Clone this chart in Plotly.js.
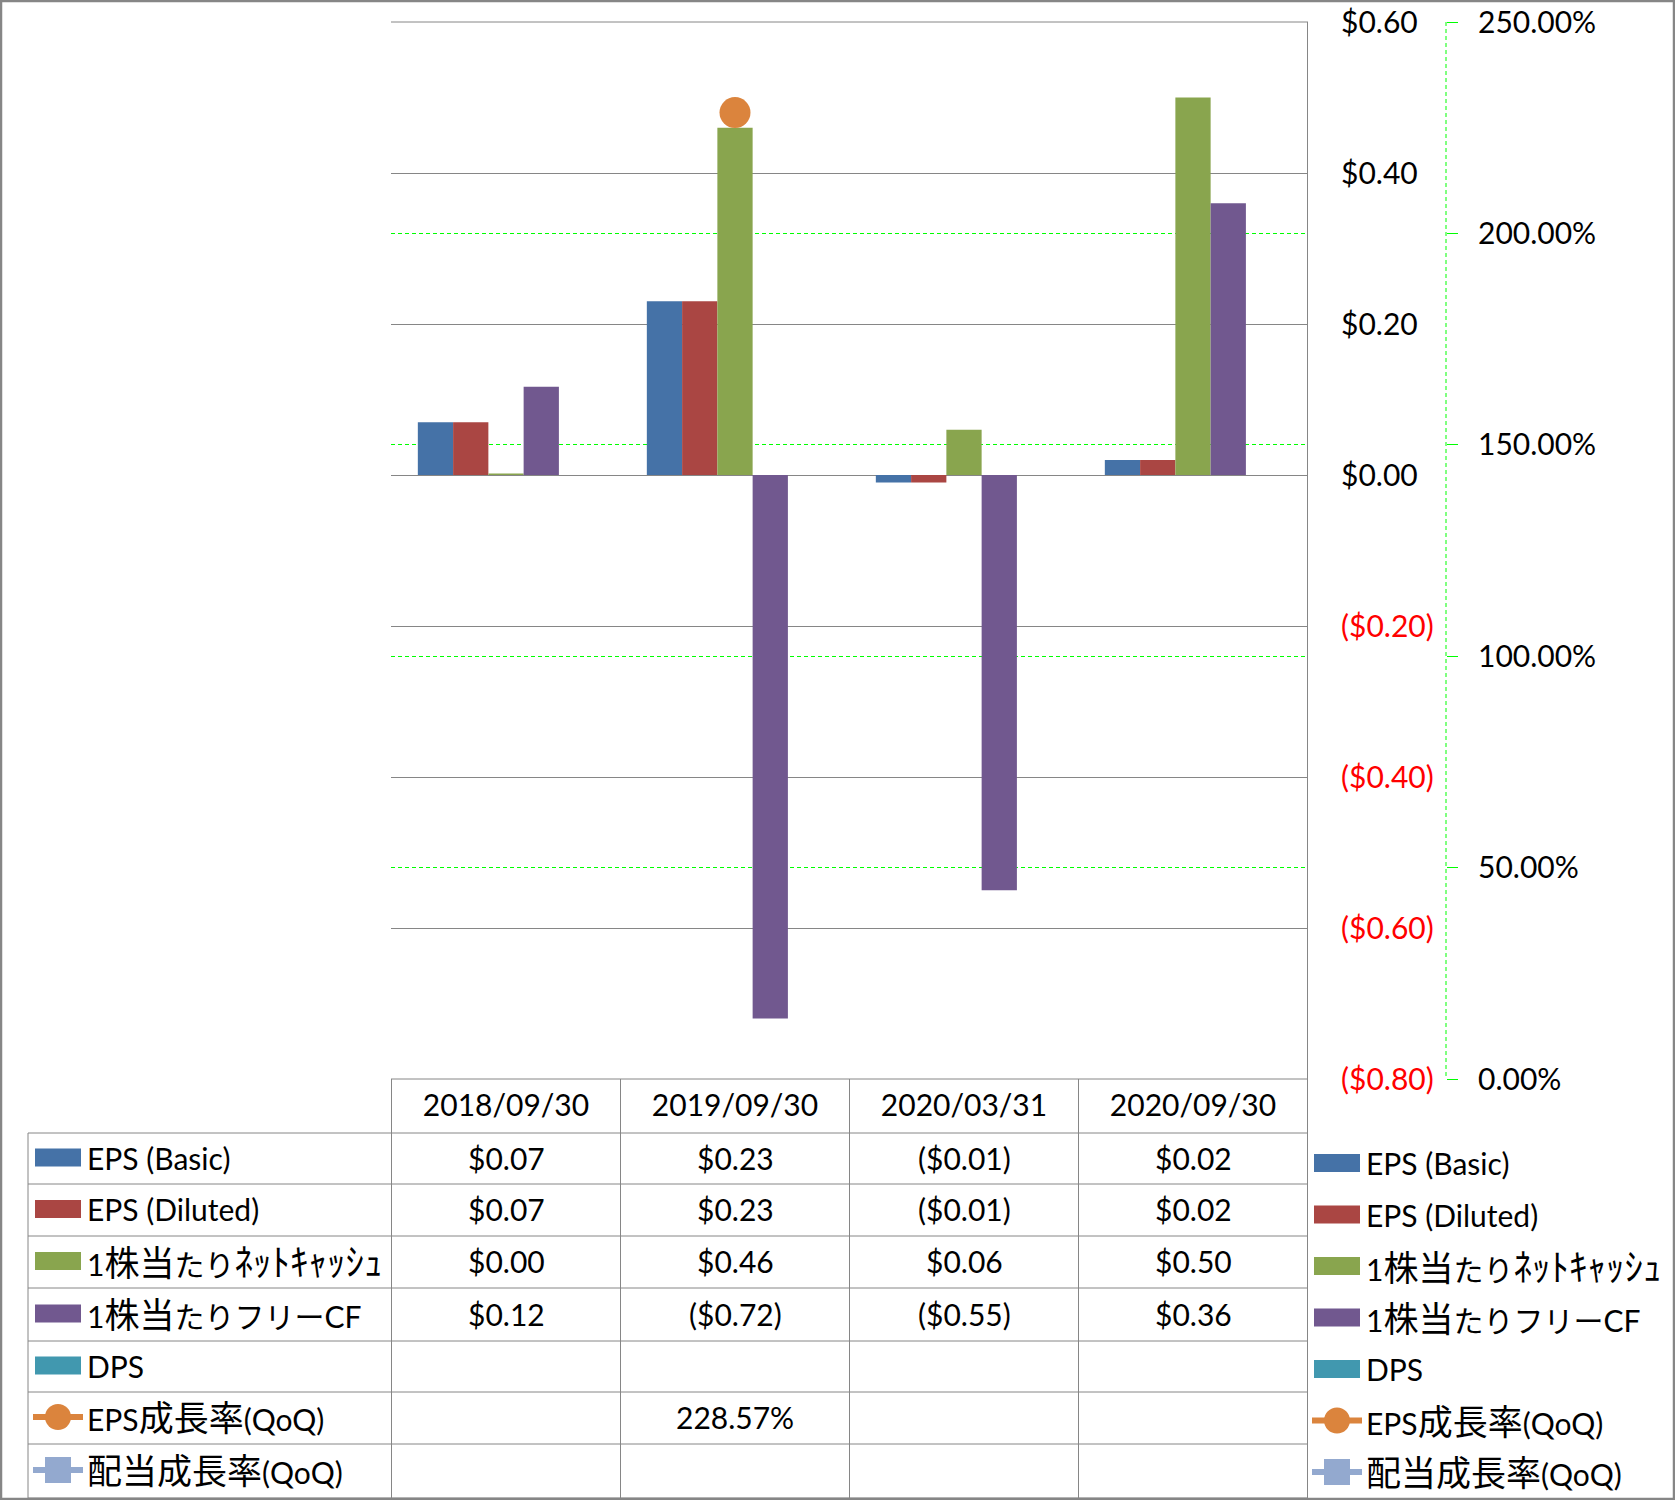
<!DOCTYPE html>
<html>
<head>
<meta charset="utf-8">
<script src="https://cdn.plot.ly/plotly-3.0.1.min.js"></script>
<style>
  html, body { margin: 0; padding: 0; background: #fff; }
  #chart { width: 1675px; height: 1500px; }
</style>
</head>
<body>
<div id="chart"></div>
<script>
// データ
const periods = ['2018/09/30', '2019/09/30', '2020/03/31', '2020/09/30'];
const epsBasic = [0.07, 0.23, -0.01, 0.02];
const epsDiluted = [0.07, 0.23, -0.01, 0.02];
const netCashPerShare = [0.002, 0.46, 0.06, 0.50];
const fcfPerShare = [0.117, -0.72, -0.55, 0.36];
const dps = [null, null, null, null];
const epsGrowth = [null, 228.57, null, null];
const dpsGrowth = [null, null, null, null];

const seriesNames = ['EPS (Basic)', 'EPS (Diluted)', '1株当たりﾈｯﾄｷｬｯｼｭ', '1株当たりフリーCF', 'DPS', 'EPS成長率(QoQ)', '配当成長率(QoQ)'];
const yTicks = [-0.8, -0.6, -0.4, -0.2, 0, 0.2, 0.4, 0.6];
const y2Ticks = [0, 50, 100, 150, 200, 250];

// スタイル
const seriesColors = ['#4572A7', '#AA4643', '#89A54E', '#71588F', '#4198AF', '#DB843D', '#93A9CF'];
const FONT = 'Lato, "Noto Sans CJK JP", sans-serif';
const GRAY = '#868686';
const GREEN = '#00FF00';

const W = 1675, H = 1500;
const X = px => px / W;
const Y = py => 1 - py / H;

function money(v) {
    if (v === null) return '';
    const s = '$' + Math.abs(v).toFixed(2);
    return v < 0 ? '(' + s + ')' : s;
}
function pct(v) {
    return v === null ? '' : v.toFixed(2) + '%';
}
// 漢字と半角カナを少し大きく（元の図のフォントに合わせる）
function styleName(name) {
    return name
        .replace(/([\u4e00-\u9fff]+)/g, '<span style="font-size:35px">$1</span>')
        .replace(/([\uff61-\uff9f]+)/g, '<span style="font-size:37px">$1</span>');
}

const barSeries = [epsBasic, epsDiluted, netCashPerShare, fcfPerShare, dps];

const data = [];
barSeries.forEach((vals, i) => {
    data.push({
        x: periods, y: vals, type: 'bar', name: seriesNames[i],
        marker: { color: seriesColors[i] },
        hoverinfo: 'skip'
    });
});
data.push({
    x: periods, y: epsGrowth, type: 'scatter', mode: 'lines+markers', name: seriesNames[5],
    yaxis: 'y2', line: { color: seriesColors[5], width: 5 },
    marker: { color: seriesColors[5], size: 31, symbol: 'circle' }
});
data.push({
    x: periods, y: dpsGrowth, type: 'scatter', mode: 'lines+markers', name: seriesNames[6],
    yaxis: 'y2', line: { color: seriesColors[6], width: 5 },
    marker: { color: seriesColors[6], size: 26, symbol: 'square' }
});

// 表と凡例
const shapes = [];
const annotations = [];
const rowEdges = [1133, 1184, 1236, 1288, 1341, 1392, 1444, 1498];
const tableRowCenter = i => (rowEdges[i] + rowEdges[i + 1]) / 2 - 1;
const legendRowCenter = i => 1163 + i * 51.5;

function line(x0, y0, x1, y1, color, width, dash) {
    return { type: 'line', xref: 'paper', yref: 'paper', x0: X(x0), x1: X(x1), y0: Y(y0), y1: Y(y1),
        line: { color: color, width: width, dash: dash || 'solid' } };
}

function addKey(cx, cy, i) {
    const c = seriesColors[i];
    if (i < 5) {
        shapes.push({ type: 'rect', xref: 'paper', yref: 'paper',
            x0: X(cx - 23), x1: X(cx + 23), y0: Y(cy - 9), y1: Y(cy + 9),
            fillcolor: c, line: { width: 0 } });
    } else {
        shapes.push(line(cx - 25, cy, cx + 25, cy, c, 6));
        const r = 13;
        shapes.push({ type: i === 5 ? 'circle' : 'rect', xref: 'paper', yref: 'paper',
            x0: X(cx - r), x1: X(cx + r), y0: Y(cy - r), y1: Y(cy + r),
            fillcolor: c, line: { width: 0 } });
    }
}

// 上端と下端の目盛線
shapes.push(line(391, 22, 1308, 22, GRAY, 1));
shapes.push(line(391, 1079, 1308, 1079, GRAY, 1));
// 表の罫線
rowEdges.forEach(y => shapes.push(line(28, y, 1308, y, GRAY, 1)));
shapes.push(line(28, 1133, 28, 1498, GRAY, 1));
for (let k = 0; k <= periods.length; k++) {
    shapes.push({ type: 'line', xref: 'x', yref: 'paper', x0: k - 0.5, x1: k - 0.5,
        y0: Y(k === periods.length ? 22 : 1079), y1: Y(1498), line: { color: GRAY, width: 1 } });
}
// 第2軸の破線
shapes.push(line(1446, 22, 1446, 1079, GREEN, 1, '4px,3px'));
// 外枠
shapes.push({ type: 'rect', xref: 'paper', yref: 'paper', x0: X(1), x1: X(1674), y0: Y(1), y1: Y(1499),
    line: { color: GRAY, width: 2.5 } });

const tableValues = [epsBasic, epsDiluted, netCashPerShare, fcfPerShare, dps, epsGrowth, dpsGrowth];
seriesNames.forEach((name, i) => {
    const cy = tableRowCenter(i);
    addKey(58, cy, i);
    annotations.push({ xref: 'paper', yref: 'paper', x: X(85), y: Y(cy), xanchor: 'left', yanchor: 'middle',
        text: styleName(name), showarrow: false });
    tableValues[i].forEach((v, j) => {
        const txt = i < 5 ? money(v) : pct(v);
        if (txt) {
            annotations.push({ xref: 'x', yref: 'paper', x: periods[j], y: Y(cy), xanchor: 'center', yanchor: 'middle',
                text: txt, showarrow: false });
        }
    });
    const ly = legendRowCenter(i);
    addKey(1337, ly, i);
    annotations.push({ xref: 'paper', yref: 'paper', x: X(1364), y: Y(ly), xanchor: 'left', yanchor: 'middle',
        text: styleName(name), showarrow: false });
});

const layout = {
    width: W, height: H,
    margin: { l: 0, r: 0, t: 0, b: 0 },
    paper_bgcolor: '#ffffff', plot_bgcolor: 'rgba(0,0,0,0)',
    font: { family: FONT, size: 30, color: '#000000' },
    showlegend: false,
    barmode: 'group', bargap: 0.23, bargroupgap: 0,
    xaxis: {
        domain: [X(391), X(1308)], type: 'category',
        showgrid: false, zeroline: false, showline: false,
        ticks: 'outside', ticklen: 0, tickcolor: 'rgba(0,0,0,0)', ticklabelstandoff: 0
    },
    yaxis: {
        domain: [Y(1079), Y(22)], range: [-0.8, 0.6], side: 'right',
        tickvals: yTicks,
        ticktext: yTicks.map(v => v < 0 ? '<span style="color:#FF0000">' + money(v) + '</span>' : money(v)),
        showgrid: true, gridcolor: GRAY, gridwidth: 1, zeroline: false, showline: false,
        ticks: 'outside', ticklen: 0, ticklabelstandoff: 26
    },
    yaxis2: {
        overlaying: 'y', anchor: 'free', position: X(1446), side: 'right',
        range: [0, 250], tickvals: y2Ticks, ticktext: y2Ticks.map(pct),
        showgrid: true, gridcolor: GREEN, gridwidth: 1, griddash: '4px,3px',
        zeroline: false, showline: false,
        ticks: 'outside', ticklen: 11, tickcolor: GREEN, tickwidth: 1, ticklabelstandoff: 14
    },
    shapes: shapes,
    annotations: annotations
};

Plotly.newPlot('chart', data, layout, { displayModeBar: false, staticPlot: true });
</script>
</body>
</html>
